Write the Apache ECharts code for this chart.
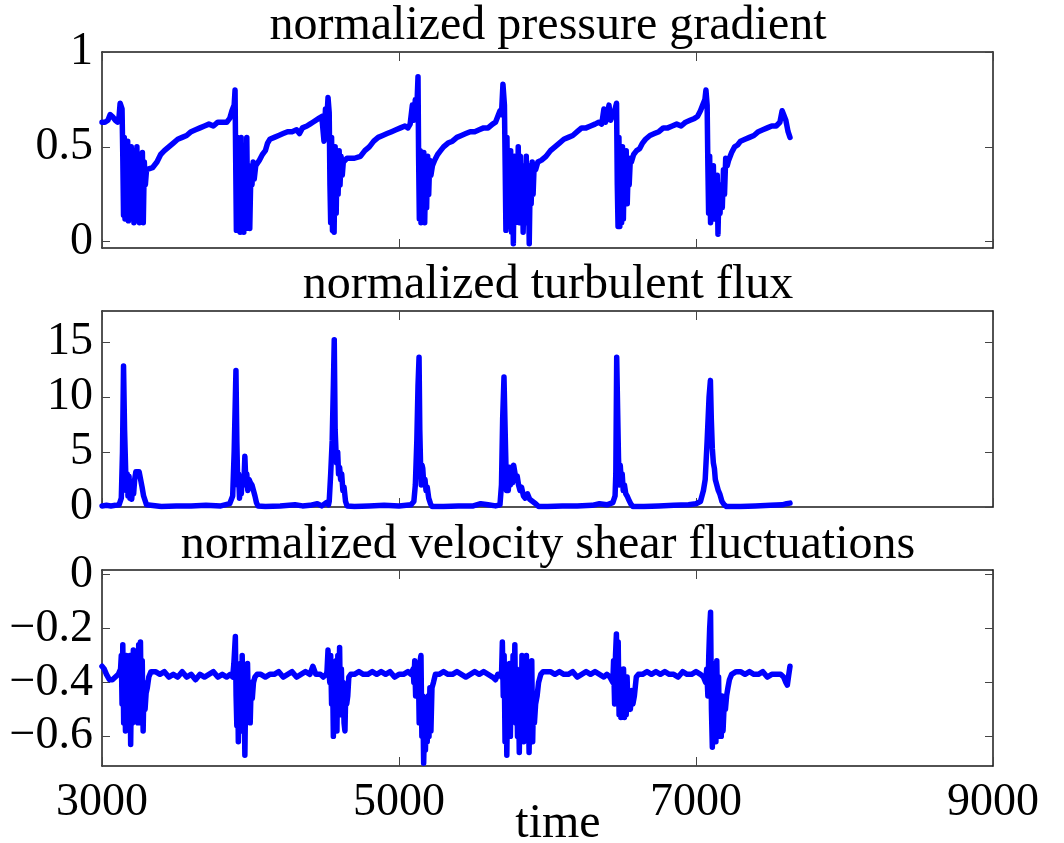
<!DOCTYPE html>
<html>
<head>
<meta charset="utf-8">
<script src="https://cdn.jsdelivr.net/npm/echarts@6/dist/echarts.min.js"></script>
<style>
html,body{margin:0;padding:0;background:#fff;}
#c{width:1064px;height:843px;}
</style>
</head>
<body>
<div id="c"></div>
<script>
// ---------- DATA ----------
const titles = ["normalized pressure gradient", "normalized turbulent flux", "normalized velocity shear fluctuations"];
const xLabel = "time";
const xTicks = [3000, 5000, 7000, 9000];
const pgTicks = [0, 0.5, 1];
const fluxTicks = [0, 5, 10, 15];
const shearTicks = [-0.6, -0.4, -0.2, 0];

const pgTime = [3000,3020,3040,3055,3070,3090,3105,3115,3122,3130,3135,
3140,3145,3150,3155,3162,3168,3173,3178,3185,3190,3197,3203,3210,3215,3222,3228,3235,3240,3247,3252,3260,3266,3272,3278,3285,3292,3300,
3310,3340,3370,3395,3420,3450,3480,3510,3540,3570,3600,3630,3660,3690,3720,3750,3780,3810,3840,3860,3875,3890,3896,
3900,3905,3912,3918,3925,3930,3937,3942,3950,3955,3962,3968,3975,3980,3988,3995,4002,4010,4018,4025,4035,4045,
4060,4080,4100,4115,4130,4160,4190,4220,4250,4280,4310,4330,4350,4380,4400,4420,4460,4480,4495,4505,4515,4522,4530,
4535,4540,4546,4552,4558,4563,4570,4577,4583,4590,4597,4603,4610,4618,4625,4635,
4650,4700,4740,4770,4800,4830,4860,4890,4920,4950,4980,5010,5040,5060,5075,5090,5100,5110,5120,5128,
5132,5137,5143,5148,5155,5160,5167,5173,5180,5186,5193,5200,5207,5215,5225,
5240,5260,5280,5300,5330,5360,5390,5420,5450,5480,5510,5540,5570,5600,5630,5650,5665,5680,5690,5700,5710,
5715,5720,5727,5733,5740,5746,5752,5758,5765,5770,5777,5783,5790,5797,5803,5810,5817,5823,5830,5836,5843,5850,5857,5863,5870,5877,5884,5890,5897,5903,5910,5920,
5935,5960,5990,6020,6050,6080,6110,6140,6170,6200,6230,6260,6290,6320,6345,6365,6380,6390,6400,6414,6425,6440,6455,6465,
6470,6475,6481,6487,6493,6499,6505,6511,6518,6524,6530,6537,6544,6550,6558,6565,
6580,6600,6620,6640,6660,6690,6720,6750,6780,6810,6840,6870,6900,6930,6960,6990,7010,7030,7045,7060,7067,7075,
7080,7085,7092,7098,7105,7110,7117,7123,7130,7136,7143,7148,7155,7162,7170,7177,7185,7192,7200,7210,
7220,7240,7260,7280,7300,7330,7360,7390,7420,7450,7480,7510,7540,7565,7580,7590,7605,7620,7633];
const pgValue = [0.63,0.63,0.64,0.67,0.66,0.64,0.63,0.66,0.73,0.73,0.70,
0.45,0.14,0.55,0.12,0.48,0.25,0.53,0.11,0.40,0.20,0.50,0.22,0.48,0.10,0.45,0.30,0.50,0.12,0.46,0.10,0.44,0.22,0.47,0.10,0.42,0.30,0.38,
0.37,0.39,0.42,0.46,0.48,0.50,0.52,0.54,0.55,0.56,0.58,0.59,0.60,0.61,0.62,0.61,0.63,0.63,0.63,0.65,0.69,0.72,0.80,
0.45,0.06,0.55,0.08,0.40,0.05,0.55,0.15,0.30,0.05,0.50,0.07,0.55,0.20,0.40,0.07,0.35,0.30,0.42,0.33,0.40,0.39,
0.43,0.46,0.48,0.52,0.54,0.55,0.56,0.57,0.58,0.58,0.59,0.57,0.60,0.61,0.62,0.63,0.65,0.66,0.53,0.70,0.66,0.76,0.68,
0.30,0.10,0.55,0.06,0.40,0.05,0.50,0.15,0.45,0.25,0.48,0.30,0.45,0.35,0.42,0.43,
0.44,0.44,0.45,0.48,0.50,0.53,0.55,0.56,0.57,0.58,0.59,0.60,0.61,0.60,0.62,0.72,0.64,0.75,0.70,0.87,
0.45,0.12,0.48,0.10,0.35,0.14,0.47,0.10,0.40,0.18,0.45,0.25,0.43,0.35,0.40,
0.43,0.46,0.48,0.50,0.52,0.53,0.55,0.56,0.57,0.58,0.58,0.59,0.60,0.60,0.62,0.63,0.66,0.69,0.67,0.83,0.72,
0.40,0.06,0.55,0.08,0.40,0.20,0.48,0.05,0.35,-0.01,0.45,0.10,0.42,0.15,0.50,0.10,0.45,0.20,0.40,0.05,0.35,0.12,0.45,0.10,0.40,-0.01,0.36,0.20,0.42,0.25,0.40,0.38,
0.42,0.43,0.45,0.48,0.50,0.52,0.54,0.55,0.56,0.58,0.60,0.60,0.61,0.62,0.63,0.62,0.70,0.63,0.66,0.72,0.64,0.67,0.70,0.73,
0.30,0.08,0.55,0.08,0.45,0.10,0.50,0.12,0.45,0.25,0.48,0.20,0.40,0.30,0.44,0.42,
0.46,0.48,0.49,0.52,0.54,0.56,0.57,0.58,0.60,0.60,0.61,0.62,0.61,0.63,0.64,0.65,0.66,0.69,0.72,0.75,0.80,0.72,
0.40,0.15,0.45,0.10,0.35,0.25,0.40,0.12,0.30,0.20,0.35,0.04,0.28,0.15,0.30,0.18,0.38,0.25,0.44,0.40,
0.43,0.47,0.50,0.51,0.53,0.54,0.55,0.56,0.58,0.59,0.60,0.61,0.61,0.63,0.69,0.67,0.64,0.58,0.55];

const fluxTime = [3000,3030,3060,3090,3115,3130,3138,3145,3152,3158,3163,3170,3175,3182,3188,3195,3200,3207,3213,3220,3228,3240,3250,3260,3270,3280,3290,3300,3310,
3400,3500,3600,3700,3800,3860,3880,
3890,3902,3908,3914,3920,3926,3932,3938,3945,3955,3962,3968,3975,3982,3990,4000,4010,4020,4030,4040,4050,
4100,4200,4300,4350,4400,4450,4480,4510,4525,
4530,4540,4550,4558,4564,4570,4575,4580,4587,4593,4600,4607,4614,4622,4630,4640,4650,
4700,4800,4900,5000,5080,5100,
5110,5120,5128,5135,5140,5145,5150,5155,5160,5167,5175,5182,5190,5200,5212,5222,
5300,5400,5500,5550,5600,5650,5680,
5690,5698,5707,5713,5718,5724,5730,5736,5743,5750,5757,5765,5772,5780,5788,5796,5805,5815,5825,5838,5850,5865,5880,5900,5920,5940,
6000,6100,6200,6300,6350,6400,6440,6455,
6460,6466,6472,6478,6484,6490,6496,6503,6510,6518,6527,6536,6546,6560,6575,
6650,6750,6850,6950,7000,7030,7050,
7062,7075,7088,7097,7103,7110,7117,7124,7130,7140,7150,7160,7175,7190,7205,
7300,7400,7500,7580,7610,7633];
const fluxValue = [0.1,0.15,0.1,0.15,0.2,0.8,5,12.8,7,4,1.5,3,1,2.8,0.8,1.5,0.7,2,1.2,2.5,3.2,3.1,3.2,2.5,1.8,1,0.6,0.2,0.05,
0.05,0.1,0.1,0.15,0.1,0.3,1.0,
5,12.4,6,2,3,0.8,2.5,1.2,2.8,2,4.6,2.5,3,1.5,2.5,2.2,2,1.5,1,0.4,0.1,
0.05,0.1,0.2,0.1,0.15,0.3,0.1,0.4,0.2,
0.5,3,6,11,15.2,7,5.3,4,5,3,3.6,2.5,3,1.5,1.8,0.5,0.1,
0.05,0.1,0.15,0.1,0.2,0.5,
2,6,11,13.6,7,4,2,3.8,3.5,2,2.5,1.5,1.8,0.8,0.3,0.05,
0.05,0.1,0.1,0.3,0.2,0.1,0.2,
2,8,11.8,8,5,1.5,3.5,1.5,3.6,2,3.6,2.2,3.8,3.9,2.5,2.8,2,1.5,1.8,1,0.8,1.2,0.7,0.5,0.3,0.05,
0.05,0.1,0.1,0.15,0.3,0.2,0.4,1,
3,13.6,9,4.5,2,3.8,2.5,3,1.5,2,1.2,1,0.7,0.3,0.05,
0.05,0.1,0.15,0.2,0.3,0.5,1.5,
2.5,6,10,11.5,8,5.3,4,3.5,2.5,2.5,1.5,1.2,0.5,0.2,0.05,
0.05,0.1,0.15,0.2,0.3,0.35];

const shearTime = [3000,3015,3030,3050,3070,3090,3110,3125,
3130,3135,3140,3146,3152,3158,3164,3170,3176,3182,3188,3193,3199,3205,3211,3217,3223,3229,3235,3241,3247,3253,3259,3265,3271,3277,3283,3290,3297,3305,3315,3330,
3360,3390,3420,3450,3480,3510,3540,3570,3600,3630,3660,3690,3720,3750,3780,3810,3840,3865,3880,
3888,3893,3898,3903,3908,3913,3918,3923,3928,3933,3938,3944,3950,3956,3962,3968,3974,3980,3986,3992,3998,4005,4012,4020,4030,4045,
4070,4100,4130,4160,4190,4220,4250,4280,4310,4340,4370,4400,4420,4440,4470,4490,4510,
4515,4522,4528,4534,4540,4546,4552,4558,4564,4570,4576,4582,4588,4594,4600,4606,4612,4618,4624,4630,4636,4642,4648,4655,4662,4675,
4700,4730,4760,4790,4820,4850,4880,4910,4940,4970,5000,5030,5060,5080,5095,
5100,5106,5112,5118,5124,5130,5136,5142,5148,5154,5160,5166,5172,5178,5184,5190,5196,5202,5208,5215,5222,5232,5245,
5270,5300,5330,5360,5390,5420,5450,5480,5510,5540,5570,5600,5630,5650,5665,5680,
5690,5696,5702,5708,5714,5720,5726,5732,5738,5744,5750,5756,5762,5768,5774,5780,5786,5792,5798,5804,5810,5816,5822,5828,5834,5840,5846,5852,5858,5864,5870,5876,5882,5888,5894,5900,5906,5912,5920,5930,5940,5955,5970,
5990,6020,6050,6080,6110,6140,6170,6200,6230,6260,6290,6320,6350,6380,6400,6420,6440,
6445,6452,6458,6464,6470,6476,6482,6488,6494,6500,6506,6512,6518,6524,6530,6536,6542,6550,6558,6566,6575,6585,6598,6612,
6640,6670,6700,6730,6760,6790,6820,6850,6880,6910,6940,6970,7000,7030,7050,
7065,7072,7080,7086,7092,7098,7104,7110,7116,7122,7128,7134,7140,7146,7152,7158,7164,7170,7176,7182,7190,7198,7206,7215,7225,7240,
7270,7300,7330,7360,7390,7420,7450,7480,7510,7540,7570,7590,7605,7615,7625,7633];
const shearValue = [-0.34,-0.35,-0.37,-0.39,-0.39,-0.38,-0.37,-0.35,
-0.30,-0.48,-0.26,-0.55,-0.33,-0.58,-0.30,-0.50,-0.34,-0.56,-0.30,-0.63,-0.35,-0.55,-0.28,-0.50,-0.33,-0.52,-0.40,-0.55,-0.26,-0.50,-0.25,-0.55,-0.32,-0.58,-0.40,-0.50,-0.44,-0.42,-0.38,-0.36,
-0.36,-0.37,-0.36,-0.38,-0.37,-0.38,-0.36,-0.38,-0.37,-0.39,-0.37,-0.38,-0.37,-0.36,-0.38,-0.37,-0.38,-0.37,-0.38,
-0.33,-0.28,-0.23,-0.45,-0.56,-0.35,-0.62,-0.40,-0.56,-0.33,-0.58,-0.30,-0.55,-0.40,-0.67,-0.42,-0.52,-0.33,-0.50,-0.45,-0.55,-0.40,-0.46,-0.40,-0.38,-0.37,
-0.37,-0.38,-0.37,-0.37,-0.36,-0.38,-0.37,-0.36,-0.38,-0.37,-0.36,-0.37,-0.34,-0.37,-0.37,-0.38,-0.37,
-0.36,-0.28,-0.36,-0.40,-0.30,-0.48,-0.35,-0.60,-0.40,-0.55,-0.32,-0.58,-0.30,-0.50,-0.27,-0.52,-0.35,-0.50,-0.40,-0.55,-0.58,-0.42,-0.48,-0.45,-0.38,-0.37,
-0.37,-0.36,-0.37,-0.37,-0.36,-0.37,-0.36,-0.37,-0.36,-0.38,-0.37,-0.37,-0.36,-0.37,-0.35,
-0.40,-0.32,-0.45,-0.35,-0.38,-0.34,-0.55,-0.32,-0.30,-0.60,-0.45,-0.70,-0.55,-0.65,-0.50,-0.62,-0.45,-0.60,-0.42,-0.58,-0.42,-0.40,-0.37,
-0.37,-0.36,-0.37,-0.37,-0.36,-0.37,-0.38,-0.37,-0.36,-0.37,-0.36,-0.37,-0.38,-0.39,-0.37,-0.37,
-0.38,-0.25,-0.45,-0.30,-0.62,-0.35,-0.67,-0.40,-0.55,-0.33,-0.60,-0.38,-0.52,-0.30,-0.50,-0.26,-0.55,-0.35,-0.60,-0.40,-0.66,-0.45,-0.58,-0.30,-0.55,-0.62,-0.40,-0.56,-0.30,-0.60,-0.42,-0.66,-0.45,-0.58,-0.32,-0.62,-0.45,-0.55,-0.48,-0.45,-0.40,-0.37,-0.36,
-0.36,-0.36,-0.37,-0.36,-0.37,-0.37,-0.36,-0.38,-0.37,-0.36,-0.37,-0.36,-0.37,-0.38,-0.37,-0.38,-0.40,
-0.32,-0.48,-0.30,-0.22,-0.45,-0.25,-0.52,-0.35,-0.53,-0.40,-0.50,-0.35,-0.53,-0.42,-0.52,-0.38,-0.50,-0.45,-0.50,-0.43,-0.48,-0.45,-0.38,-0.37,
-0.37,-0.36,-0.37,-0.36,-0.37,-0.36,-0.37,-0.37,-0.38,-0.36,-0.37,-0.37,-0.36,-0.37,-0.38,
-0.40,-0.35,-0.45,-0.30,-0.20,-0.14,-0.50,-0.64,-0.40,-0.58,-0.33,-0.62,-0.32,-0.55,-0.38,-0.60,-0.45,-0.60,-0.45,-0.58,-0.48,-0.50,-0.45,-0.42,-0.39,-0.37,
-0.36,-0.36,-0.37,-0.36,-0.37,-0.37,-0.36,-0.38,-0.37,-0.37,-0.37,-0.38,-0.40,-0.41,-0.37,-0.34];

// ---------- CHART ----------
const FONT = '"Liberation Serif", "Times New Roman", serif';
const FS = 46;
const TFS = 48;
const BLUE = '#0000ff';
const FRAME = '#1a1a1a';
const panels = [
  {top: 52, min: -0.033, max: 1, ticks: pgTicks, t: pgTime, v: pgValue},
  {top: 311, min: 0, max: 17.8, ticks: fluxTicks, t: fluxTime, v: fluxValue},
  {top: 570, min: -0.71, max: 0.017, ticks: shearTicks, t: shearTime, v: shearValue}
];
const H = 196;
const grids = [], xAxes = [], yAxes = [], series = [];
const fmt = v => String(v).replace('-', '\u2212');
panels.forEach((p, i) => {
  grids.push({left: 102, right: 71, top: p.top, height: H, containLabel: false});
  const isLast = i === panels.length - 1;
  xAxes.push({type: 'value', gridIndex: i, min: 3000, max: 9000, position: 'bottom',
    axisLine: {show: true, onZero: false, lineStyle: {color: FRAME, width: 1.5}},
    axisTick: {show: true, inside: true, length: 9, customValues: xTicks, lineStyle: {color: '#444', width: 1}},
    axisLabel: {show: isLast, margin: 14, customValues: xTicks, formatter: v => String(v), color: '#000', fontFamily: FONT, fontSize: FS},
    splitLine: {show: false}});
  xAxes.push({type: 'value', gridIndex: i, min: 3000, max: 9000, position: 'top',
    axisLine: {show: true, onZero: false, lineStyle: {color: FRAME, width: 1.5}},
    axisTick: {show: true, inside: true, length: 9, customValues: xTicks, lineStyle: {color: '#444', width: 1}},
    axisLabel: {show: false}, splitLine: {show: false}});
  yAxes.push({type: 'value', gridIndex: i, min: p.min, max: p.max, position: 'left',
    axisLine: {show: true, onZero: false, lineStyle: {color: FRAME, width: 1.5}},
    axisTick: {show: true, inside: true, length: 8, customValues: p.ticks, lineStyle: {color: '#444', width: 1}},
    axisLabel: {show: true, margin: 9, customValues: p.ticks, formatter: fmt, color: '#000', fontFamily: FONT, fontSize: FS},
    splitLine: {show: false}});
  yAxes.push({type: 'value', gridIndex: i, min: p.min, max: p.max, position: 'right',
    axisLine: {show: true, onZero: false, lineStyle: {color: FRAME, width: 1.5}},
    axisTick: {show: true, inside: true, length: 8, customValues: p.ticks, lineStyle: {color: '#444', width: 1}},
    axisLabel: {show: false}, splitLine: {show: false}});
  series.push({type: 'line', xAxisIndex: 2 * i, yAxisIndex: 2 * i,
    data: p.t.map((t, k) => [t, p.v[k]]),
    showSymbol: false, symbol: 'none', clip: true,
    lineStyle: {color: BLUE, width: 5.5, join: 'round', cap: 'round'},
    emphasis: {disabled: true}});
});

const titleYs = [26, 285, 545];
const graphics = titles.map((txt, i) => ({type: 'text', x: 548, y: titleYs[i],
  style: {text: txt, font: TFS + 'px ' + FONT, fill: '#000', textAlign: 'center', textVerticalAlign: 'middle'}}));
graphics.push({type: 'text', x: 558, y: 824,
  style: {text: xLabel, font: TFS + 'px ' + FONT, fill: '#000', textAlign: 'center', textVerticalAlign: 'middle'}});

const chart = echarts.init(document.getElementById('c'), null, {renderer: 'canvas'});
chart.setOption({
  animation: false,
  backgroundColor: '#fff',
  grid: grids, xAxis: xAxes, yAxis: yAxes, series: series,
  graphic: graphics
});
</script>
</body>
</html>
